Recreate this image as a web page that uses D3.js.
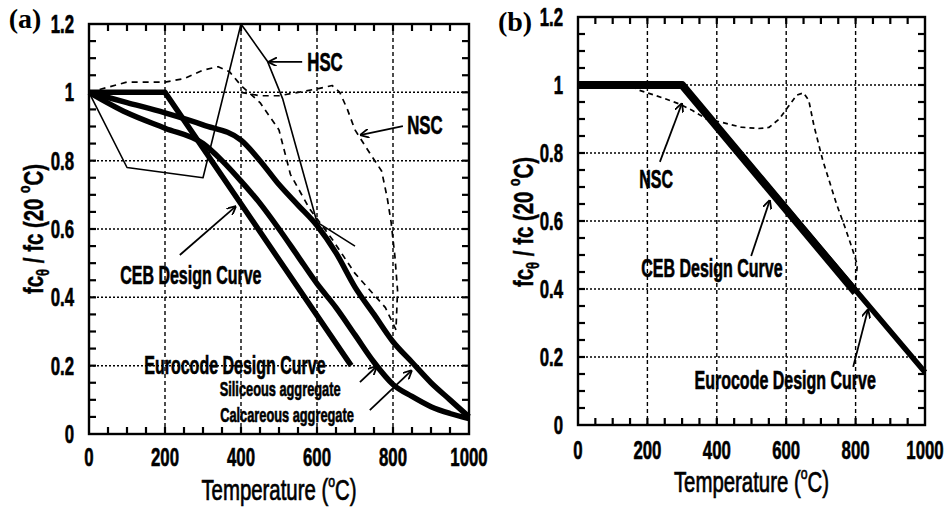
<!DOCTYPE html>
<html>
<head>
<meta charset="utf-8">
<script src="https://cdn.jsdelivr.net/npm/d3@7"></script>
<style>
  body { margin: 0; background: #fff; }
  text { font-family: "Liberation Sans", Arial, sans-serif; font-weight: bold; fill: #000; }
</style>
</head>
<body>
<svg id="chart" width="949" height="511"></svg>
<script>
// axis ticks
var xTicks = [0, 200, 400, 600, 800, 1000];
var yTicks = [0, 0.2, 0.4, 0.6, 0.8, 1, 1.2];
var yTickLabels = ['0', '0.2', '0.4', '0.6', '0.8', '1', '1.2'];

// panel (a) series, temperature (C) and fc/fc(20C)
var hscT = [0, 100, 300, 400, 470, 510, 600, 700];
var hscV = [1, 0.78, 0.75, 1.2, 1.09, 0.98, 0.62, 0.55];
var nscAT = [0, 50, 100, 150, 200, 250, 300, 340, 370, 400, 450, 500, 530, 580, 640, 700, 740, 780, 810];
var nscAV = [1, 1.015, 1.03, 1.03, 1.03, 1.04, 1.065, 1.075, 1.06, 1.02, 0.97, 0.89, 0.76, 0.66, 0.57, 0.47, 0.42, 0.37, 0.30];
var nscBT = [400, 450, 500, 550, 600, 640, 660, 680, 700, 740, 770, 785, 795, 805, 812, 808];
var nscBV = [1.0, 0.99, 0.99, 1.0, 1.01, 1.02, 1.0, 0.95, 0.89, 0.82, 0.77, 0.69, 0.62, 0.52, 0.42, 0.31];
var cebT = [0, 200, 690];
var cebV = [1, 1, 0.2];
var silT = [0, 100, 200, 300, 350, 400, 450, 500, 550, 600, 650, 700, 750, 800, 850, 900, 950, 1000];
var silV = [1, 0.94, 0.895, 0.85, 0.80, 0.74, 0.675, 0.60, 0.52, 0.44, 0.37, 0.29, 0.21, 0.145, 0.11, 0.08, 0.06, 0.045];
var calT = [0, 100, 200, 300, 400, 450, 500, 550, 600, 650, 700, 750, 800, 850, 900, 950, 1000];
var calV = [1, 0.97, 0.94, 0.905, 0.86, 0.80, 0.73, 0.67, 0.61, 0.53, 0.43, 0.35, 0.27, 0.21, 0.15, 0.10, 0.05];

// panel (b) series
var bCebT = [0, 300, 800];
var bCebV = [1, 1, 0.39];
var bEuroT = [0, 300, 1000];
var bEuroV = [1, 1, 0.155];
var bNscT = [0, 150, 175, 200, 250, 290, 330, 370, 415, 470, 520, 550, 580, 605, 630, 650, 665, 680, 705, 745, 770, 790, 805, 800];
var bNscV = [1, 1.0, 0.985, 0.977, 0.96, 0.945, 0.925, 0.9, 0.89, 0.876, 0.872, 0.875, 0.9, 0.935, 0.97, 0.977, 0.955, 0.88, 0.78, 0.65, 0.58, 0.52, 0.47, 0.42];

var svg = d3.select('#chart');

function zip(t, v) {
  return t.map(function(d, i) { return [d, v[i]]; });
}

// text helper: narrow bold look done by scaling a regular face
function label(sel, x, y, parts, o) {
  var g = sel.append('g')
    .attr('transform', 'translate(' + x + ',' + y + ') rotate(' + (o.rot || 0) + ') scale(' + (o.sx || 0.8) + ',' + (o.sy || 1.25) + ')');
  var t = g.append('text')
    .attr('text-anchor', o.anchor || 'middle')
    .attr('dominant-baseline', 'central')
    .style('font-size', o.size + 'px');
  if (o.weight) t.style('font-weight', o.weight);
  if (o.family) t.style('font-family', o.family);
  if (o.heavy) t.attr('stroke', '#000').attr('stroke-width', o.heavy);
  if (typeof parts === 'string') {
    t.text(parts);
  } else {
    parts.forEach(function(p) {
      var s = t.append('tspan').text(p.t);
      if (p.shift) s.attr('baseline-shift', p.shift).style('font-size', p.size);
    });
  }
  return g;
}

svg.append('defs').append('marker')
    .attr('id', 'vhead')
    .attr('viewBox', '0 0 10 10')
    .attr('refX', 10).attr('refY', 5)
    .attr('markerWidth', 9).attr('markerHeight', 9)
    .attr('markerUnits', 'userSpaceOnUse')
    .attr('orient', 'auto')
  .append('path')
    .attr('d', 'M0,0 L10,5 L0,10')
    .attr('fill', 'none')
    .attr('stroke', '#000')
    .attr('stroke-width', 2);

function tickLines(g, data, x1, y1, x2, y2) {
  g.selectAll(null).data(data).enter().append('line')
    .attr('x1', x1).attr('y1', y1).attr('x2', x2).attr('y2', y2)
    .style('stroke', '#000')
    .style('stroke-width', '2.2px');
}

function panel(p) {
  var x = d3.scaleLinear().domain([0, 1000]).range([p.left, p.right]);
  var y = d3.scaleLinear().domain([0, 1.2]).range([p.bottom, p.top]);
  var g = svg.append('g');

  // grid
  g.selectAll(null).data(xTicks.slice(1, -1)).enter().append('line')
    .attr('x1', function(d) { return x(d); }).attr('x2', function(d) { return x(d); })
    .attr('y1', p.top).attr('y2', p.bottom)
    .attr('stroke', '#000').attr('stroke-width', 1.4)
    .attr('stroke-dasharray', '4,3');
  g.selectAll(null).data(yTicks.slice(1, -1)).enter().append('line')
    .attr('y1', function(d) { return y(d); }).attr('y2', function(d) { return y(d); })
    .attr('x1', p.left).attr('x2', p.right)
    .attr('stroke', '#000').attr('stroke-width', 1.5)
    .attr('stroke-dasharray', '2,2');

  // inward minor ticks on all four sides
  var xm = d3.range(50, 1000, 50), ym = d3.range(1, 24).map(function(i) { return i * 0.05; });
  var tl = 7;
  var fx = function(d) { return x(d); }, fy = function(d) { return y(d); };
  tickLines(g, xm, fx, p.bottom, fx, p.bottom - tl);
  tickLines(g, xm, fx, p.top, fx, p.top + tl);
  tickLines(g, ym, p.left, fy, p.left + tl, fy);
  tickLines(g, ym, p.right, fy, p.right - tl, fy);

  g.append('rect')
    .attr('x', p.left).attr('y', p.top)
    .attr('width', p.right - p.left).attr('height', p.bottom - p.top)
    .attr('fill', 'none').attr('stroke', '#000').attr('stroke-width', 2.4);

  // tick labels
  xTicks.forEach(function(d) {
    label(g, x(d), p.xLabY, String(d), { size: 21, heavy: 0.5 });
  });
  yTicks.forEach(function(d, i) {
    label(g, p.left - 15, y(d), yTickLabels[i], { size: 21, anchor: 'end', heavy: 0.5 });
  });

  label(g, (p.left + p.right) / 2, p.xTitleY,
    [{ t: 'Temperature (' }, { t: 'o', shift: 'super', size: '60%' }, { t: 'C)' }],
    { size: 24, weight: 'normal', sx: 0.85, sy: 1.2, heavy: 0.6 });
  label(g, p.yTitleX, p.yTitleY,
    [{ t: 'fc' }, { t: 'θ', shift: 'sub', size: '65%' }, { t: ' / fc (20 ' }, { t: 'o', shift: 'super', size: '60%' }, { t: 'C)' }],
    { size: 24, rot: -90, sx: 0.85, sy: 1.15, heavy: 0.4 });
  label(g, p.tagX, p.tagY, p.tag,
    { size: 28, sx: 1, sy: 1, family: '"Liberation Serif", "Times New Roman", serif' });

  return { x: x, y: y, g: g };
}

function curve(P, t, v, w, dash, smooth) {
  var line = d3.line()
    .x(function(d) { return P.x(d[0]); })
    .y(function(d) { return P.y(d[1]); })
    .curve(smooth ? d3.curveMonotoneX : d3.curveLinear);
  P.g.append('path')
    .datum(zip(t, v))
    .attr('d', line)
    .attr('fill', 'none')
    .attr('stroke', '#000')
    .attr('stroke-width', w)
    .attr('stroke-linejoin', 'round')
    .attr('stroke-dasharray', dash || null);
}

function arrow(P, from, to) {
  P.g.append('line')
    .attr('x1', P.x(from[0])).attr('y1', P.y(from[1]))
    .attr('x2', P.x(to[0])).attr('y2', P.y(to[1]))
    .attr('stroke', '#000').attr('stroke-width', 1.8)
    .attr('marker-end', 'url(#vhead)');
}

function note(P, at, str, size) {
  label(P.g, P.x(at[0]), P.y(at[1]), str, { size: size, heavy: 0.5 });
}

// ---- panel (a)
var A = panel({ left: 89, right: 469, top: 24, bottom: 434, xLabY: 457, xTitleY: 490,
  yTitleX: 33, yTitleY: 229, tag: '(a)', tagX: 25, tagY: 18 });

curve(A, nscAT, nscAV, 1.7, '6,5');
curve(A, nscBT, nscBV, 1.7, '6,5');
curve(A, hscT, hscV, 1.6);
curve(A, cebT, cebV, 5.5);
curve(A, silT, silV, 5.5, null, true);
curve(A, calT, calV, 5.5, null, true);

note(A, [621, 1.089], 'HSC', 21);
arrow(A, [561, 1.089], [471, 1.089]);
note(A, [884, 0.904], 'NSC', 21);
arrow(A, [826, 0.901], [713, 0.875]);
note(A, [268, 0.465], 'CEB Design Curve', 20);
arrow(A, [239, 0.524], [387, 0.667]);
note(A, [384, 0.202], 'Eurocode Design Curve', 20);
note(A, [503, 0.129], 'Siliceous aggregate', 16);
note(A, [521, 0.053], 'Calcareous aggregate', 16);
arrow(A, [713, 0.152], [758, 0.199]);
arrow(A, [739, 0.070], [850, 0.187]);

// ---- panel (b)
var B = panel({ left: 578, right: 925, top: 17, bottom: 425, xLabY: 450, xTitleY: 482,
  yTitleX: 523, yTitleY: 222, tag: '(b)', tagX: 515, tagY: 21 });

curve(B, bNscT, bNscV, 1.7, '5,4');
curve(B, bEuroT, bEuroV, 5.5);
curve(B, bCebT, bCebV, 8);

note(B, [225, 0.724], 'NSC', 20);
arrow(B, [236, 0.774], [300, 0.947]);
note(B, [386, 0.462], 'CEB Design Curve', 20);
arrow(B, [499, 0.497], [553, 0.662]);
note(B, [597, 0.132], 'Eurocode Design Curve', 20);
arrow(B, [793, 0.171], [836, 0.341]);
</script>
</body>
</html>
